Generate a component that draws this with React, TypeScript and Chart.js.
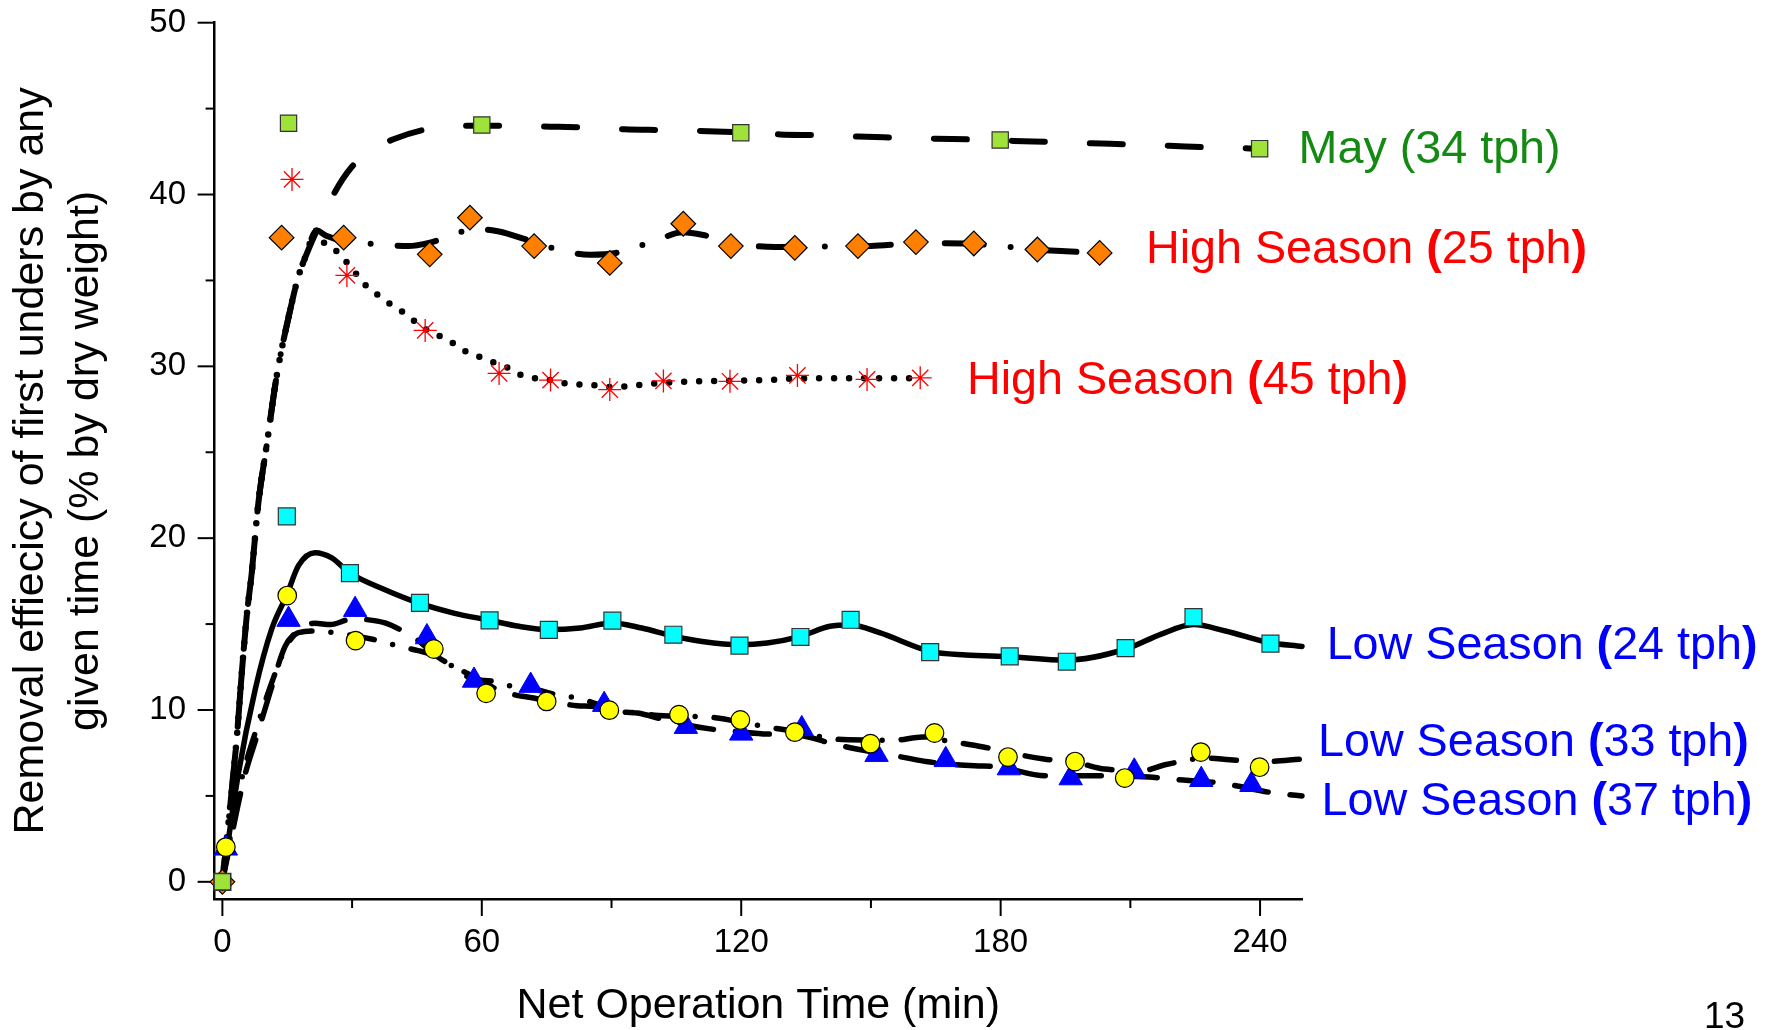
import React, { useEffect, useRef } from 'react';
import { Chart, registerables } from 'chart.js';

Chart.register(...registerables);

const FONT = "'Liberation Sans', Arial, Helvetica, sans-serif";

// ---------- axes ----------
const X_MIN = -1.8;
const X_MAX = 249.7;
const Y_MIN = -1;
const Y_MAX = 50;
const X_TICK_LABELS = [0, 60, 120, 180, 240];
const X_MINOR_TICKS = [30, 90, 150, 210];
const Y_TICK_LABELS = [0, 10, 20, 30, 40, 50];
const Y_MINOR_TICKS = [5, 15, 25, 35, 45];
const X_TITLE = 'Net Operation Time (min)';
const Y_TITLE = ['Removal effiecicy of first unders by any', 'given time (% by dry weight)'];

// ---------- measured points (markers) ----------
const MAY_T = [0, 15.3, 60, 119.9, 179.9, 239.9];
const MAY_V = [0, 44.15, 44.05, 43.6, 43.17, 42.67];

const HS25_T = [0, 13.7, 28.05, 47.95, 57.25, 72.1, 89.6, 106.6, 117.6, 132.4, 147, 160.4, 173.8, 188.5, 202.9];
const HS25_V = [0, 37.49, 37.49, 36.52, 38.65, 37.0, 36.02, 38.3, 37.0, 36.9, 37.0, 37.23, 37.15, 36.8, 36.6];

const HS45_T = [0, 16.1, 28.8, 46.9, 64, 75.9, 89.6, 102, 117.4, 133, 149.1, 161.4];
const HS45_V = [0, 40.88, 35.29, 32.09, 29.59, 29.2, 28.65, 29.15, 29.13, 29.47, 29.24, 29.33];

const LS24_T = [0, 14.9, 29.5, 45.7, 61.8, 75.5, 90.2, 104.3, 119.6, 133.7, 145.3, 163.7, 182.1, 195.3, 208.9, 224.6, 242.4];
const LS24_V = [0, 21.27, 17.97, 16.23, 15.22, 14.66, 15.2, 14.38, 13.75, 14.25, 15.25, 13.37, 13.12, 12.81, 13.6, 15.4, 13.86];

const LS33_T = [0.8, 15, 30.8, 48.9, 61, 75, 89.5, 105.6, 119.8, 132.4, 149.9, 164.7, 181.7, 197.2, 208.7, 226.3, 239.9];
const LS33_V = [2.02, 16.66, 14.04, 13.55, 10.97, 10.5, 9.99, 9.73, 9.42, 8.71, 8.04, 8.66, 7.26, 7.0, 6.04, 7.55, 6.67];

const LS37_T = [0.8, 15.3, 30.7, 47.3, 58.2, 71.3, 88.3, 107.2, 120, 134, 151.3, 167.3, 181.9, 196.2, 210.9, 226.4, 238];
const LS37_V = [1.95, 15.26, 15.84, 14.25, 11.72, 11.42, 10.31, 9.03, 8.64, 8.9, 7.4, 7.1, 6.62, 6.04, 6.43, 5.94, 5.65];

// ---------- fitted curves ----------
const HIGH_RISE_T = [0, 1.8, 3.3, 4.5, 5.6, 6.8, 8.3, 10.3, 12.6, 15.7, 17.6, 19.1, 21.8];
const HIGH_RISE_V = [0, 4.4, 8.3, 12.2, 15.4, 18.0, 22.0, 25.5, 29.5, 33.3, 35.25, 36.3, 37.9];

const MAY_TAIL_T = [25.7, 29.9, 34, 39.4, 47.3, 57, 65.7, 76, 84, 93, 102, 116, 129, 138, 147, 156, 165, 174, 183, 192, 201, 210, 219, 228, 240];
const MAY_TAIL_V = [40.0, 41.6, 42.5, 43.2, 43.8, 44.0, 44.0, 43.95, 43.9, 43.8, 43.75, 43.66, 43.5, 43.45, 43.37, 43.31, 43.25, 43.2, 43.12, 43.06, 42.98, 42.92, 42.84, 42.75, 42.67];

const HS25_TAIL_T = [24, 28, 36, 43, 48, 53, 58, 64, 70, 79, 85, 91, 100, 106.5, 112, 120, 128, 140, 150, 160, 167, 178, 188.5, 195, 203];
const HS25_TAIL_V = [37.6, 37.3, 37.1, 37.0, 37.2, 37.6, 38.0, 37.85, 37.4, 36.7, 36.5, 36.6, 37.3, 37.8, 37.6, 37.1, 36.95, 36.97, 37.0, 37.15, 37.16, 37.06, 36.78, 36.7, 36.6];

const HS45_TAIL_T = [23.5, 26, 28.6, 30.9, 33, 35.7, 38.4, 41.5, 44.1, 46.8, 50, 53, 56, 59, 62, 65.4, 69, 72.4, 76, 79.5, 86, 90, 96, 100, 107, 114, 125, 135, 145, 160];
const HS45_TAIL_V = [37.2, 36.8, 36.1, 35.4, 34.75, 34.2, 33.7, 33.2, 32.7, 32.2, 31.8, 31.4, 30.9, 30.6, 30.3, 30.0, 29.5, 29.3, 29.2, 29.0, 28.9, 28.8, 28.9, 29.0, 29.1, 29.15, 29.2, 29.3, 29.3, 29.3];

const LS24_CURVE_T = [0, 3.7, 7.6, 11.4, 14.9, 17.6, 21.4, 25.3, 29.3, 37.6, 45.7, 53.5, 61.8, 68.6, 75.5, 82.7, 90.2, 97, 104.3, 111, 119.5, 126, 133.7, 140.5, 145.3, 152, 163.7, 172, 182, 195, 209, 217, 224.6, 232, 242, 249.7];
const LS24_CURVE_V = [0, 6.3, 11.2, 14.7, 16.7, 18.4, 19.15, 18.85, 18.0, 17.0, 16.2, 15.64, 15.22, 14.87, 14.68, 14.77, 15.07, 14.77, 14.3, 13.99, 13.8, 13.9, 14.29, 14.87, 14.95, 14.5, 13.41, 13.2, 13.1, 12.9, 13.55, 14.4, 14.97, 14.6, 13.93, 13.7];

const LS33_CURVE_T = [0, 4, 8, 12, 15, 17.6, 22, 27, 31, 35, 41, 45, 50, 54, 57.3, 62.7, 66.5, 71, 77, 83, 91, 96, 100, 108, 114, 121.5, 129, 133, 142, 150, 155, 162, 167, 176, 183, 190, 198, 204, 213, 218, 228, 233, 241, 249.7];
const LS33_CURVE_V = [0, 5.5, 9.0, 12.0, 13.8, 14.5, 14.6, 14.45, 14.3, 14.1, 13.7, 13.47, 13.1, 12.4, 11.86, 11.66, 11.41, 11.28, 10.9, 10.64, 10.0, 9.82, 9.7, 9.63, 9.55, 9.22, 8.89, 8.75, 8.3, 8.25, 8.23, 8.43, 8.23, 7.85, 7.46, 7.15, 6.91, 6.56, 6.48, 6.81, 7.2, 7.1, 7.0, 7.15];

const LS37_CURVE_T = [0, 5, 8, 11, 14.5, 17, 21.4, 25, 30, 33.4, 37.6, 41.1, 45, 49.6, 54.2, 58.5, 62.7, 67.3, 72, 78, 82, 86, 91, 96, 102, 108, 114.3, 118.9, 126, 133, 140.5, 146.7, 152, 158.5, 162.7, 174, 179.2, 190.5, 203, 214.3, 219.4, 230.8, 243.2, 249.7];
const LS37_CURVE_V = [0, 6.0, 8.5, 11.0, 13.7, 14.5, 15.05, 14.97, 15.3, 15.26, 15.07, 14.68, 14.1, 13.12, 12.44, 11.9, 11.3, 10.9, 10.7, 10.4, 10.25, 10.2, 9.92, 9.82, 9.45, 9.1, 8.85, 8.75, 8.6, 8.55, 8.08, 7.73, 7.5, 7.2, 7.0, 6.75, 6.7, 6.17, 6.17, 6.1, 5.98, 5.74, 5.17, 5.0];

// ---------- series labels (anchored in data units: left x in min, baseline in %) ----------
const SERIES_LABELS = ['May (34 tph)', 'High Season (25 tph)', 'High Season (45 tph)', 'Low Season (24 tph)', 'Low Season (33 tph)', 'Low Season (37 tph)'];
const LABEL_COLORS = ['#148a14', '#ff0000', '#ff0000', '#0000ff', '#0000ff', '#0000ff'];
const LABEL_BOLD_PARENS = [false, true, true, true, true, true];
const LABEL_AT_T = [248.9, 213.6, 172.2, 255.4, 253.4, 254.2];
const LABEL_AT_V = [41.84, 36.0, 28.39, 12.99, 7.34, 3.87];
const PAGE_NUMBER = '13';

// ---------- helpers ----------
const pts = (t: number[], v: number[]) => t.map((x, i) => ({ x, y: v[i] }));

function curve(t: number[], v: number[], dash: number[], width: number) {
  return {
    data: pts(t, v),
    showLine: true,
    borderColor: '#000',
    backgroundColor: '#000',
    borderWidth: width,
    borderDash: dash,
    borderCapStyle: 'round',
    borderJoinStyle: 'round',
    pointRadius: 0,
    pointHoverRadius: 0,
    cubicInterpolationMode: 'monotone',
    fill: false,
    clip: false,
    order: 10,
  };
}

function markers(t: number[], v: number[], style: string, radius: number, bg: string, border: string, bw: number, order: number) {
  return {
    data: pts(t, v),
    showLine: false,
    pointStyle: style,
    pointRadius: radius,
    pointHoverRadius: radius,
    pointBackgroundColor: bg,
    pointBorderColor: border,
    pointBorderWidth: bw,
    backgroundColor: bg,
    borderColor: border,
    clip: false,
    order,
  };
}

const decorPlugin = {
  id: 'decor',
  beforeDatasetsDraw(chart: any) {
    const { ctx, chartArea, scales } = chart;
    const xs = scales.x;
    const ys = scales.y;
    ctx.save();
    ctx.strokeStyle = '#000';
    ctx.lineWidth = 2;
    ctx.lineCap = 'butt';
    const yt = [...Y_TICK_LABELS.map((v) => [v, 17]), ...Y_MINOR_TICKS.map((v) => [v, 9])];
    for (const [v, len] of yt) {
      const py = ys.getPixelForValue(v);
      ctx.beginPath();
      ctx.moveTo(chartArea.left - len, py);
      ctx.lineTo(chartArea.left, py);
      ctx.stroke();
    }
    const xt = [...X_TICK_LABELS.map((v) => [v, 17]), ...X_MINOR_TICKS.map((v) => [v, 9])];
    for (const [v, len] of xt) {
      const px = xs.getPixelForValue(v);
      ctx.beginPath();
      ctx.moveTo(px, chartArea.bottom);
      ctx.lineTo(px, chartArea.bottom + len);
      ctx.stroke();
    }
    ctx.restore();
  },
  afterDraw(chart: any) {
    const { ctx, scales } = chart;
    const xs = scales.x;
    const ys = scales.y;
    ctx.save();
    ctx.textBaseline = 'alphabetic';
    ctx.textAlign = 'left';
    SERIES_LABELS.forEach((label, i) => {
      let cx = xs.getPixelForValue(LABEL_AT_T[i]);
      const cy = ys.getPixelForValue(LABEL_AT_V[i]);
      const parts = label.split(/([()])/).filter((p) => p.length > 0);
      for (const p of parts) {
        const bold = LABEL_BOLD_PARENS[i] && (p === '(' || p === ')');
        ctx.font = `${bold ? 'bold ' : ''}46.7px ${FONT}`;
        ctx.fillStyle = LABEL_COLORS[i];
        ctx.fillText(p, cx, cy);
        cx += ctx.measureText(p).width;
      }
    });
    ctx.font = `37px ${FONT}`;
    ctx.fillStyle = '#000';
    ctx.fillText(PAGE_NUMBER, 1704, 1028);
    ctx.restore();
  },
};

export default function App() {
  const ref = useRef<HTMLCanvasElement>(null);

  useEffect(() => {
    if (!ref.current) return;
    Chart.defaults.color = '#000';
    Chart.defaults.font.family = FONT;

    const datasets: any[] = [
      markers(MAY_T, MAY_V, 'rect', 11.5, '#9fe33a', '#333333', 1.2, 0),
      markers(LS33_T, LS33_V, 'circle', 9.3, '#ffff00', '#000000', 1.2, 1),
      markers(LS37_T, LS37_V, 'triangle', 13.5, '#0000ff', '#0000ff', 1, 2),
      markers(LS24_T, LS24_V, 'rect', 12, '#00ffff', '#333333', 1.2, 3),
      markers(HS25_T, HS25_V, 'rectRot', 12.3, '#ff8000', '#000000', 1.2, 4),
      markers(HS45_T, HS45_V, 'star', 11.5, '#ff0000', '#ff0000', 1.3, 5),
      curve([...HIGH_RISE_T, ...MAY_TAIL_T], [...HIGH_RISE_V, ...MAY_TAIL_V], [33, 45], 6),
      curve([...HIGH_RISE_T, ...HS25_TAIL_T], [...HIGH_RISE_V, ...HS25_TAIL_V], [39, 27, 0, 27], 6),
      curve([...HIGH_RISE_T, ...HS45_TAIL_T], [...HIGH_RISE_V, ...HS45_TAIL_V], [0, 15], 6.5),
      curve(LS24_CURVE_T, LS24_CURVE_V, [], 5.5),
      curve(LS33_CURVE_T, LS33_CURVE_V, [25, 19, 0, 19], 5.5),
      curve(LS37_CURVE_T, LS37_CURVE_V, [34, 22], 5.5),
    ];

    const chart = new Chart(ref.current, {
      type: 'scatter',
      data: { datasets },
      plugins: [decorPlugin],
      options: {
        animation: false,
        responsive: false,
        devicePixelRatio: 1,
        events: [],
        layout: { padding: { left: 0, top: 22.7, right: 469, bottom: 0 } },
        plugins: { legend: { display: false }, tooltip: { enabled: false }, title: { display: false } },
        scales: {
          x: {
            type: 'linear',
            position: 'bottom',
            min: X_MIN,
            max: X_MAX,
            afterBuildTicks: (s: any) => {
              s.ticks = X_TICK_LABELS.map((v) => ({ value: v }));
            },
            afterFit: (s: any) => {
              s.height = 131;
              s.paddingLeft = 0;
              s.paddingRight = 0;
            },
            grid: { display: true, drawOnChartArea: false, drawTicks: false },
            border: { display: true, color: '#000', width: 2.5 },
            ticks: {
              color: '#000',
              autoSkip: false,
              maxRotation: 0,
              padding: 24,
              font: { family: FONT, size: 33, lineHeight: 1.2 },
              callback: (v: any) => String(v),
            },
            title: {
              display: true,
              text: X_TITLE,
              color: '#000',
              font: { family: FONT, size: 43, lineHeight: 1.1 },
              padding: { top: 0, bottom: 0 },
            },
          },
          y: {
            type: 'linear',
            position: 'left',
            min: Y_MIN,
            max: Y_MAX,
            afterBuildTicks: (s: any) => {
              s.ticks = Y_TICK_LABELS.map((v) => ({ value: v }));
            },
            afterFit: (s: any) => {
              s.width = 214.6;
              s.paddingTop = 0;
              s.paddingBottom = 0;
            },
            grid: { display: true, drawOnChartArea: false, drawTicks: false },
            border: { display: true, color: '#000', width: 2.5 },
            ticks: {
              color: '#000',
              autoSkip: false,
              padding: 28.6,
              font: { family: FONT, size: 33, lineHeight: 1.2 },
              callback: (v: any) => String(v),
            },
            title: {
              display: true,
              text: Y_TITLE,
              color: '#000',
              font: { family: FONT, size: 43, lineHeight: 1.27 },
              padding: { top: 4.2, bottom: 0 },
            },
          },
        },
      } as any,
    });
    return () => chart.destroy();
  }, []);

  return (
    <div style={{ position: 'fixed', left: 0, top: 0, width: 1771, height: 1030, background: '#fff' }}>
      <canvas ref={ref} width={1771} height={1030} style={{ display: 'block', width: 1771, height: 1030 }} />
    </div>
  );
}
